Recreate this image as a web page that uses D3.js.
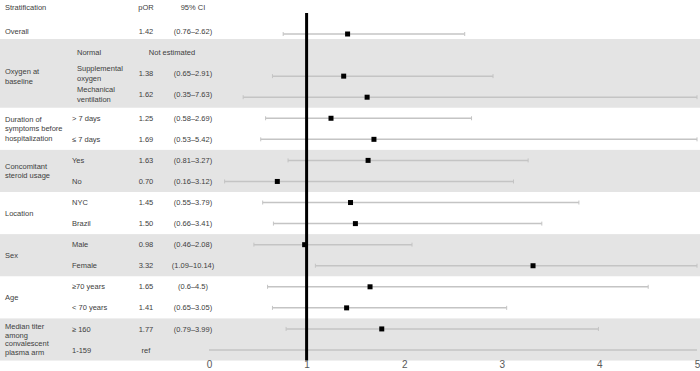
<!DOCTYPE html>
<html>
<head>
<meta charset="utf-8">
<script src="https://cdn.jsdelivr.net/npm/d3@7"></script>
<style>
  body { margin: 0; background: #fff; }
  svg { font-family: "Liberation Sans", Arial, sans-serif; }
  .tbl { fill: #404040; font-size: 7.5px; }
  .tick text { fill: #595959; font-size: 10px; }
</style>
</head>
<body>
<div class="chart"></div>
<script>
// group labels (left column) and how many rows each group spans
var groupLabels = [["Overall"], ["Oxygen at", "baseline"], ["Duration of", "symptoms before", "hospitalization"],
  ["Concomitant", "steroid usage"], ["Location"], ["Sex"], ["Age"], ["Median titer", "among", "convalescent", "plasma arm"]];
var groupSizes = [1, 3, 2, 2, 2, 2, 2, 2];

// one entry per row
var subLabels = [[""], ["Normal"], ["Supplemental", "oxygen"], ["Mechanical", "ventilation"], ["> 7 days"], ["\u2264 7 days"],
  ["Yes"], ["No"], ["NYC"], ["Brazil"], ["Male"], ["Female"], ["\u226570 years"], ["< 70 years"], ["\u2265 160"], ["1-159"]];
var porText = ["1.42", "", "1.38", "1.62", "1.25", "1.69", "1.63", "0.70", "1.45", "1.50", "0.98", "3.32", "1.65", "1.41", "1.77", "ref"];
var ciText = ["(0.76\u20132.62)", "", "(0.65\u20132.91)", "(0.35\u20137.63)", "(0.58\u20132.69)", "(0.53\u20135.42)", "(0.81\u20133.27)",
  "(0.16\u20133.12)", "(0.55\u20133.79)", "(0.66\u20133.41)", "(0.46\u20132.08)", "(1.09\u201310.14)", "(0.6\u20134.5)", "(0.65\u20133.05)", "(0.79\u20133.99)", ""];
var estimates = [1.42, null, 1.38, 1.62, 1.25, 1.69, 1.63, 0.70, 1.45, 1.50, 0.98, 3.32, 1.65, 1.41, 1.77, null];
var lower = [0.76, null, 0.65, 0.35, 0.58, 0.53, 0.81, 0.16, 0.55, 0.66, 0.46, 1.09, 0.6, 0.65, 0.79, 0];
var upper = [2.62, null, 2.91, 7.63, 2.69, 5.42, 3.27, 3.12, 3.79, 3.41, 2.08, 10.14, 4.5, 3.05, 3.99, 5];
var notEstimated = "Not estimated";
var xTicks = [0, 1, 2, 3, 4, 5];

var svgWidth = 700;
var svgHeight = 371;

var svg = d3.select(".chart")
  .append("svg")
  .attr("width", svgWidth)
  .attr("height", svgHeight);

// scales
var x = d3.scaleLinear().domain([0, 5]).range([209, 697]);
var y = d3.scaleLinear().domain([0, subLabels.length - 1]).range([34, 350]);
var step = y(1) - y(0);

// group start index
var starts = [];
var acc = 0;
groupSizes.forEach(function(n) { starts.push(acc); acc += n; });

// gray bands behind every other group
svg.append("g").selectAll("rect")
  .data(starts.filter(function(d, i) { return i % 2 == 1; }).map(function(s) { return starts.indexOf(s); }))
  .enter()
  .append("rect")
  .attr("x", 0)
  .attr("width", svgWidth)
  .attr("y", function(g) { return g == 1 ? y(0) + 5 : y(starts[g]) - step / 2; })
  .attr("height", function(g) {
    var top = g == 1 ? y(0) + 5 : y(starts[g]) - step / 2;
    return y(starts[g] + groupSizes[g] - 1) + step / 2 - top;
  })
  .attr("fill", "#e4e4e4");

// header
var header = svg.append("g").attr("class", "tbl");
header.append("text").attr("x", 5).attr("y", 7).attr("dy", "0.35em").text("Stratification");
header.append("text").attr("x", 146).attr("y", 7).attr("dy", "0.35em").attr("text-anchor", "middle").text("pOR");
header.append("text").attr("x", 193).attr("y", 7).attr("dy", "0.35em").attr("text-anchor", "middle").text("95% CI");

// multi line label helper
function multiLine(sel, lines, lh) {
  lines.forEach(function(l, k) {
    sel.append("tspan")
      .attr("x", sel.attr("x"))
      .attr("dy", k == 0 ? (0.35 - (lines.length - 1) * lh / 2) + "em" : lh + "em")
      .text(l);
  });
}

// group labels
groupLabels.forEach(function(lines, g) {
  var cy = (y(starts[g]) + y(starts[g] + groupSizes[g] - 1)) / 2;
  if (g == 0) cy = y(0) - 3;
  var t = svg.append("text").attr("class", "tbl").attr("x", 5).attr("y", cy);
  multiLine(t, lines, g == 7 ? 1.15 : 1.3);
});

// sub labels, pOR, CI text
subLabels.forEach(function(lines, i) {
  var ty = y(i) - (i < 4 ? 2.5 : 0);
  var t = svg.append("text").attr("class", "tbl").attr("x", (i >= 1 && i <= 3) ? 77 : 72).attr("y", ty);
  multiLine(t, lines, 1.3);
  svg.append("text").attr("class", "tbl").attr("x", 146).attr("y", ty).attr("dy", "0.35em")
    .attr("text-anchor", "middle").text(porText[i]);
  svg.append("text").attr("class", "tbl").attr("x", 193).attr("y", ty).attr("dy", "0.35em")
    .attr("text-anchor", "middle").text(ciText[i]);
});
svg.append("text").attr("class", "tbl").attr("x", 172).attr("y", y(1) - 3).attr("dy", "0.35em")
  .attr("text-anchor", "middle").text(notEstimated);

// confidence interval lines
var rows = d3.range(subLabels.length).filter(function(i) { return lower[i] != null; });
var ci = svg.append("g");
ci.selectAll("line.ci")
  .data(rows)
  .enter()
  .append("line")
  .attr("x1", function(i) { return x(Math.max(0, lower[i])); })
  .attr("x2", function(i) { return x(Math.min(5, upper[i])); })
  .attr("y1", function(i) { return y(i); })
  .attr("y2", function(i) { return y(i); })
  .attr("stroke", "#c4c4c4")
  .attr("stroke-width", 1.5);

// end caps
rows.filter(function(i) { return estimates[i] != null; }).forEach(function(i) {
  [lower[i], Math.min(5, upper[i])].forEach(function(v) {
    ci.append("line")
      .attr("x1", x(v)).attr("x2", x(v))
      .attr("y1", y(i) - 2).attr("y2", y(i) + 2)
      .attr("stroke", "#c4c4c4")
      .attr("stroke-width", 1);
  });
});

// reference line at 1
svg.append("line")
  .attr("x1", x(1)).attr("x2", x(1))
  .attr("y1", 13)
  .attr("y2", y(subLabels.length - 1) + step / 2)
  .attr("stroke", "#000")
  .attr("stroke-width", 3);

// point estimates
svg.append("g").selectAll("rect")
  .data(rows.filter(function(i) { return estimates[i] != null; }))
  .enter()
  .append("rect")
  .attr("x", function(i) { return x(estimates[i]) - 2.5; })
  .attr("y", function(i) { return y(i) - 2.5; })
  .attr("width", 5)
  .attr("height", 5)
  .attr("fill", "#000");

// x axis
var axis = svg.append("g")
  .attr("transform", "translate(0,360)")
  .call(d3.axisBottom(x).tickValues(xTicks).tickFormat(d3.format("d")).tickSize(0).tickPadding(1));
axis.select(".domain").remove();
</script>
</body>
</html>
